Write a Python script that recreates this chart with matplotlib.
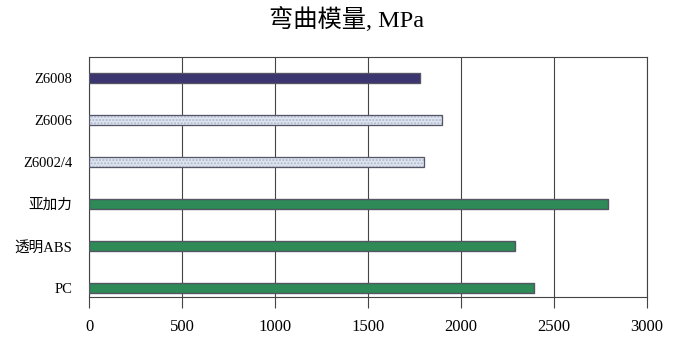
import matplotlib
matplotlib.use("Agg")
import matplotlib.pyplot as plt

plt.rcParams['font.family'] = ['Liberation Serif', 'Noto Sans CJK SC']

# categories from bottom to top
labels = ['PC', '透明ABS', '亚加力', 'Z6002/4', 'Z6006', 'Z6008']
values = [2390, 2290, 2790, 1800, 1900, 1780]
colors = ['#2e8b57', '#2e8b57', '#2e8b57', '#dde4f0', '#dde4f0', '#3b3570']
ticks = [0, 500, 1000, 1500, 2000, 2500, 3000]

fig = plt.figure(figsize=(6.8, 3.54), dpi=100)
ax = fig.add_axes([89/680, 1 - 297/354, 558/680, 240/354])

ypos = list(range(len(labels)))
for y, v, c in zip(ypos, values, colors):
  hatch = '.....' if c == '#dde4f0' else None
  ax.barh(y, v, height=0.23, color=c, edgecolor='#b0b8cc' if hatch else '#3a3a3a',
          hatch=hatch, linewidth=0.8, zorder=3)
  ax.barh(y, v, height=0.23, color='none', edgecolor='#555566', linewidth=0.9, zorder=4)

ax.set_xlim(0, 3000)
ax.set_ylim(-0.22, 5.5)
ax.set_xticks(ticks)
ax.set_xticklabels([str(t) for t in ticks], fontsize=12)
ax.set_yticks(ypos)
ax.set_yticklabels(labels, fontsize=10.5)
ax.tick_params(axis='y', length=0, pad=12)
ax.tick_params(axis='x', direction='out', length=8, width=0.8, color='#444444', pad=8)
ax.grid(axis='x', color='#444444', linewidth=0.8, zorder=0)
for s in ax.spines.values():
  s.set_color('#444444')
  s.set_linewidth(0.8)

fig.text(347/680, 1 - 19/354, '弯曲模量, MPa', fontsize=17.5, ha='center', va='center')

fig.savefig('out.png', dpi=100, facecolor='white')
